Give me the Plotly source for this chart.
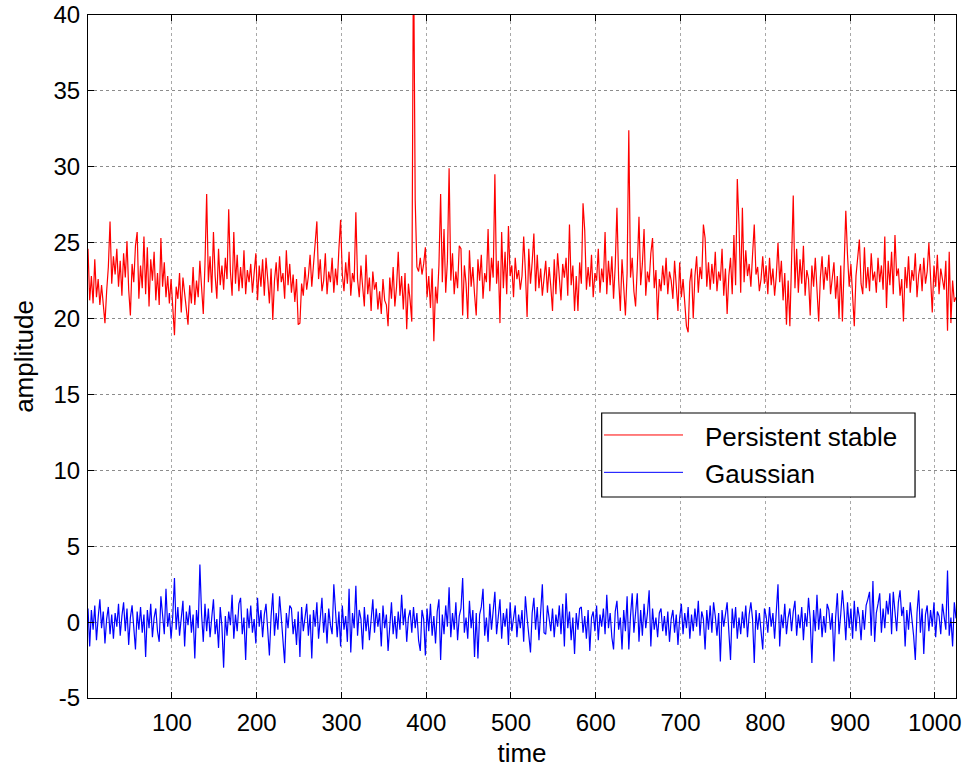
import plotly.graph_objects as go

# time index (every other sample of the 1..1025 record)
time = list(range(1, 1026, 2))

persistent_stable = [
    24.6, 21.2, 22.8, 21.0, 23.9, 21.4, 22.6, 20.9, 22.2, 20.6, 19.7, 21.8, 23.4, 26.4, 22.3, 24.1,
    22.9, 24.6, 22.1, 23.8, 21.5, 24.3, 22.7, 25.1, 21.9, 20.2, 23.6, 22.4, 24.8, 25.7, 21.3, 23.5,
    22.0, 25.4, 21.6, 24.7, 20.8, 23.9, 22.5, 24.4, 21.2, 23.0, 20.9, 25.3, 22.1, 23.7, 21.4, 22.8,
    21.0, 22.6, 20.5, 18.9, 22.1, 21.3, 23.0, 20.4, 22.7, 21.5, 20.8, 19.6, 22.2, 21.0, 23.4, 20.9,
    22.5, 21.4, 23.8, 22.0, 20.3, 23.6, 28.2, 22.4, 24.1, 21.7, 25.7, 22.8, 21.3, 24.6, 22.2, 23.5,
    21.9, 24.0, 22.6, 27.2, 23.1, 21.5, 25.7, 22.3, 24.2, 21.8, 23.4, 22.0, 24.5, 21.6, 23.2, 22.4,
    23.6, 21.7, 22.9, 24.3, 21.2, 23.5, 22.1, 23.9, 21.5, 24.0, 22.6, 21.0, 23.3, 19.9, 22.5, 23.7,
    21.8, 24.1, 22.4, 23.0, 21.3, 24.5, 22.2, 23.6, 21.7, 22.9, 21.1, 22.6, 19.6, 19.7, 22.3, 21.5,
    23.4, 21.9, 22.8, 24.2, 22.1, 23.5, 25.0, 26.4, 22.6, 23.9, 21.8, 22.5, 24.3, 21.6, 23.1, 22.4,
    24.0, 21.7, 23.3, 22.2, 24.6, 26.5, 22.9, 21.8, 23.7, 22.3, 24.4, 21.5, 23.0, 22.4, 27.0, 22.6,
    21.4, 23.5, 22.1, 20.8, 24.2, 21.6, 22.7, 20.5, 23.1, 21.9, 22.4, 20.6, 21.8, 20.3, 22.6, 21.2,
    20.9, 19.5, 22.7, 21.3, 23.4, 20.8, 22.1, 24.4, 21.5, 22.8, 20.6, 23.0, 19.3, 22.3, 21.2, 19.8,
    45.0, 27.8, 23.4, 23.1, 24.0, 22.9, 23.6, 24.7, 21.4, 22.8, 20.7, 23.3, 18.5, 22.1, 21.0, 23.5,
    28.2, 22.4, 25.9, 21.7, 23.8, 29.9, 22.5, 24.3, 21.6, 23.1, 22.0, 24.8, 24.6, 20.2, 23.5, 22.3,
    20.0, 24.5, 22.1, 23.4, 21.6, 20.2, 23.9, 22.5, 24.2, 21.3, 23.0, 22.4, 25.9, 21.8, 24.0, 22.7,
    29.5, 22.3, 23.8, 19.7, 25.7, 22.0, 24.4, 21.6, 26.1, 22.8, 23.5, 21.4, 24.0, 22.6, 23.2, 21.9,
    22.8, 25.4, 23.1, 20.1, 24.6, 22.3, 23.7, 25.6, 21.8, 24.2, 22.0, 23.3, 21.5, 22.9, 23.8, 21.7,
    23.4, 22.1, 20.5, 23.9, 21.6, 24.3, 22.4, 21.2, 23.6, 22.7, 24.0, 21.5, 26.2, 22.2, 23.5, 20.5,
    22.8, 20.5, 23.7, 22.3, 27.6, 25.8, 21.9, 23.4, 22.1, 24.2, 21.4, 23.0, 22.5, 24.6, 21.7, 23.3,
    22.4, 25.7, 21.6, 23.8, 22.2, 24.1, 21.3, 23.5, 27.3, 22.6, 20.5, 23.9, 22.1, 20.2, 23.0, 32.4,
    22.7, 24.0, 21.8, 20.8, 23.4, 26.7, 22.2, 23.6, 25.9, 21.5, 23.1, 22.4, 24.3, 25.3, 22.0, 23.2,
    19.9, 22.6, 21.8, 23.5, 22.2, 24.0, 21.6, 23.1, 22.5, 21.3, 23.8, 22.0, 20.5, 23.7, 21.4, 22.6,
    21.0, 19.5, 19.1, 22.4, 23.3, 20.0, 22.8, 24.1, 21.7, 23.4, 22.6, 26.2, 25.3, 22.1, 23.7, 21.9,
    23.6, 22.3, 24.4, 21.8, 23.1, 22.5, 24.6, 21.5, 23.3, 20.3, 22.8, 24.0, 21.6, 25.5, 22.2, 29.2,
    26.2, 21.7, 27.3, 22.4, 24.5, 22.8, 23.6, 22.1, 24.2, 26.2, 22.9, 23.4, 21.8, 22.6, 24.1, 22.3,
    23.5, 21.6, 24.0, 22.2, 23.3, 21.5, 22.8, 25.0, 22.4, 23.8, 21.2, 23.0, 19.6, 22.5, 19.5, 23.6,
    28.1, 22.0, 24.6, 21.7, 23.9, 22.3, 24.8, 21.5, 23.2, 22.6, 20.2, 23.5, 22.1, 24.0, 21.4, 19.8,
    22.7, 24.1, 21.9, 23.4, 22.5, 24.2, 21.6, 22.9, 23.7, 21.3, 22.8, 20.0, 23.5, 19.8, 23.0, 27.1,
    24.2, 22.1, 23.6, 21.4, 19.5, 22.8, 23.9, 25.2, 22.3, 21.6, 24.7, 22.0, 23.4, 21.8, 24.3, 22.5,
    23.1, 21.7, 24.0, 22.4, 23.5, 21.9, 25.4, 20.7, 23.8, 22.2, 24.4, 21.6, 25.5, 22.8, 23.3, 21.5,
    22.6, 19.8, 23.4, 22.0, 24.1, 21.7, 23.2, 22.5, 24.3, 21.4, 22.9, 23.6, 21.8, 24.0, 22.3, 23.1,
    25.0, 22.4, 20.4, 23.5, 22.1, 24.2, 21.6, 23.3, 22.7, 21.9, 23.8, 19.2, 24.4, 19.7, 22.5, 21.1,
    21.4,
]

gaussian = [
    0.9, -1.6, 0.8, -0.5, 1.1, -1.2, 0.3, 1.5, -0.4, 0.7, -1.4, 0.2, 1.0, -0.8, 0.5, -1.1,
    0.6, -0.3, 1.2, -0.9, 0.4, 1.3, -0.6, 0.9, -1.5, 0.3, 1.1, -0.2, -1.8, 0.7, -0.5, 1.0,
    -0.7, 0.5, -2.3, 0.8, -0.4, 1.2, -1.0, 0.3, 0.9, -0.6, -1.3, 1.7, 0.2, -0.8, 2.2, -0.3,
    0.6, -1.1, 0.4, 2.9, -0.5, 1.0, -0.9, 0.3, 1.4, -1.6, 0.7, -0.2, 1.1, -0.7, 0.5, -2.4,
    0.8, -0.4, 3.8, 0.5, -1.3, 1.2, -0.6, 0.9, -1.0, 0.3, 1.5, -0.8, 0.2, -1.7, 1.0, -0.3,
    -3.0, 0.4, -0.9, 0.7, -0.2, 1.8, -1.1, 0.5, -0.6, 1.2, 1.6, -0.8, 0.3, -2.5, 0.9, -0.4,
    1.1, -0.7, 0.2, -1.4, 1.6, -0.3, 0.8, -1.0, 0.5, 1.2, -0.6, -2.2, 0.4, 1.9, -0.9, 0.6,
    -0.5, 1.7, 0.3, -1.2, -2.7, 0.6, -0.4, 1.1, 0.9, -0.8, 0.2, -1.5, 0.7, -2.3, 1.0, -0.6,
    0.4, 1.2, -0.9, 0.5, -2.4, 0.8, -0.3, 1.3, -1.1, 0.2, 1.6, -0.7, 0.6, -1.4, 0.9, -0.2,
    -0.8, 2.5, 0.3, -1.0, 0.7, -1.6, 1.1, -0.5, 0.4, -1.3, 2.2, -2.0, 0.6, -0.4, 2.4, -0.9,
    0.8, 0.2, -1.8, 1.0, -0.6, 0.5, -1.2, 0.3, 1.5, -0.7, 0.9, -0.3, 0.6, -1.6, 1.1, -0.4,
    0.5, -1.9, -0.3, 1.3, -0.8, 0.4, -1.1, 0.7, -0.5, 1.8, -0.2, 0.9, -1.3, 0.3, 0.8, -0.7,
    1.0, -0.4, 0.6, -1.2, -1.9, 0.8, 0.2, -2.2, 0.9, -0.6, 1.2, -0.9, 0.4, -1.4, 0.7, 1.5,
    -2.5, 0.5, -0.8, 1.1, -0.3, 2.3, -1.0, 0.6, -0.5, 1.3, -1.2, 0.4, 0.9, 2.9, -0.7, 0.3,
    -1.1, 1.4, -0.4, 0.8, -2.3, 0.6, -2.4, 0.5, 1.0, 2.2, -0.9, 0.3, -1.3, 1.2, -0.5, 0.7,
    2.0, -0.8, 0.4, 1.5, -1.1, 0.6, -0.3, 0.9, -1.5, 1.3, -0.6, 0.2, 1.1, -1.0, 0.5, -0.4,
    0.8, -1.3, 1.7, 0.3, -0.9, -2.0, 0.6, 1.6, -0.5, 1.0, -1.2, 0.4, 2.5, -0.7, -0.8, 1.1,
    0.2, -0.6, 0.9, -1.0, 0.5, -0.3, 1.1, -0.8, 1.2, -1.6, 1.9, -0.4, 0.7, -1.2, 0.3, -2.1,
    0.6, -0.5, 0.9, 1.0, -0.7, 0.4, -1.1, 0.8, -1.9, 0.3, 0.7, -0.6, 1.1, -1.2, 0.5, -0.3,
    0.9, -0.8, 1.8, -0.4, 0.6, -1.0, -1.8, 0.7, 1.4, -0.5, 0.3, -1.8, 0.8, -0.6, 1.7, -1.8,
    0.4, 1.9, -0.7, 0.5, 1.9, -1.3, 0.8, -0.9, 1.2, -0.4, 0.6, 2.1, -1.6, 0.9, -0.5, 0.3,
    -1.0, 0.6, 0.9, -0.6, 0.4, -0.9, 0.7, -1.3, 0.2, 0.8, -0.7, 0.5, -1.5, 0.3, 1.2, -0.8,
    0.6, -0.4, 1.0, -1.1, 0.5, -0.6, 0.9, -0.3, 1.4, -0.9, 0.7, 0.2, -1.8, 0.8, -0.5, 1.1,
    -0.7, 1.3, 0.4, -0.9, 0.6, -2.6, 0.8, -0.3, 0.5, 1.3, -0.6, -2.5, 0.9, -0.4, 1.0, -1.1,
    0.3, -0.8, 0.7, -0.4, 1.1, -1.0, 0.5, 1.3, 0.2, -2.7, 0.8, -0.5, 0.6, -0.9, -1.8, 0.9,
    0.4, -0.7, 1.0, -0.3, 0.6, -1.1, 0.8, 2.5, -1.6, 0.5, -0.4, 1.2, -0.8, 0.3, 0.9, -0.6,
    0.7, 1.4, -0.9, 0.5, -0.4, 1.0, -1.2, 0.6, -0.3, 1.6, 0.2, -2.7, 0.8, -0.6, 1.8, -0.5,
    0.9, -1.0, 0.4, -0.7, 1.2, 0.8, -0.5, 0.6, -2.6, 0.3, 1.9, -0.8, 0.5, 2.1, 0.7, -1.2,
    1.3, -0.4, 0.9, -1.1, 1.4, -0.6, 1.0, 0.3, -1.2, 0.8, -0.5, 1.1, 1.5, 2.0, -0.9, 2.7,
    -1.3, 0.6, 1.2, 1.9, -0.7, 0.9, -0.4, 1.4, 0.5, 1.9, -0.8, 2.0, 0.7, -0.6, 1.3, 2.1,
    0.4, 1.0, -1.6, 0.8, -0.5, 1.3, 0.2, -0.9, -2.5, 0.6, 2.1, -0.7, 0.9, -2.1, 0.5, 1.1,
    -0.6, 0.8, -0.3, 1.3, -1.0, 0.7, 0.4, -0.8, 1.2, 0.2, -0.5, 3.4, -0.9, 0.3, -1.6, 1.3,
    0.25,
]

x_ticks = [100, 200, 300, 400, 500, 600, 700, 800, 900, 1000]
y_ticks = [-5, 0, 5, 10, 15, 20, 25, 30, 35, 40]
legend_labels = ["Persistent stable", "Gaussian"]
colors = ["#ff0000", "#0000ff"]

FONT = "Liberation Sans, Arial, Helvetica, sans-serif"

fig = go.Figure()
fig.add_trace(go.Scatter(x=time, y=persistent_stable, mode="lines",
                         line=dict(color=colors[0], width=1.2), name=legend_labels[0]))
fig.add_trace(go.Scatter(x=time, y=gaussian, mode="lines",
                         line=dict(color=colors[1], width=1.2), name=legend_labels[1]))

axis_common = dict(
    showline=True, linecolor="black", linewidth=1, mirror="allticks",
    ticks="inside", ticklen=6, tickcolor="black",
    showgrid=True, griddash="dot", gridwidth=1,
    zeroline=False, automargin=False, ticklabeloverflow="allow",
    tickfont=dict(family=FONT, size=24, color="black"),
)

fig.update_xaxes(range=[1, 1025], tickvals=x_ticks, ticktext=[str(v) for v in x_ticks],
                 gridcolor="#a8a8a8", ticklabelstandoff=3,
                 title=dict(text="time", font=dict(family=FONT, size=26, color="black"), standoff=14),
                 **axis_common)
fig.update_yaxes(range=[-5, 40], tickvals=y_ticks, ticktext=[str(v) for v in y_ticks],
                 gridcolor="#8c8c8c", ticklabelstandoff=2,
                 title=dict(text="amplitude", font=dict(family=FONT, size=26, color="black"), standoff=12),
                 **axis_common)

# legend box drawn in paper coordinates (MATLAB style, long line samples)
lx0, lx1, ly0, ly1 = 0.5918, 0.9528, 0.2943, 0.4173
shapes = [
    dict(type="rect", xref="paper", yref="paper", x0=lx0, x1=lx1, y0=ly0, y1=ly1,
         line=dict(color="black", width=1.2), fillcolor="white", layer="above"),
]
annotations = []
rows_y = [0.3851, 0.3304]
for lab, col, yy in zip(legend_labels, colors, rows_y):
    shapes.append(dict(type="line", xref="paper", yref="paper", x0=0.5945, x1=0.6855,
                       y0=yy, y1=yy, line=dict(color=col, width=1), layer="above"))
    annotations.append(dict(xref="paper", yref="paper", x=0.7090, y=yy - 0.003, text=lab,
                            showarrow=False, xanchor="left", yanchor="middle",
                            font=dict(family=FONT, size=26, color="black")))

fig.update_layout(
    width=966, height=768,
    margin=dict(l=88, r=10, t=15, b=70),
    paper_bgcolor="white", plot_bgcolor="white",
    showlegend=False,
    shapes=shapes, annotations=annotations,
    font=dict(family=FONT, size=24, color="black"),
)

# remove the default page margin so the figure sits at the window's top-left corner
fig.write_html("out.html", config={"displayModeBar": False},
               post_script="document.body.style.margin='0px';")
